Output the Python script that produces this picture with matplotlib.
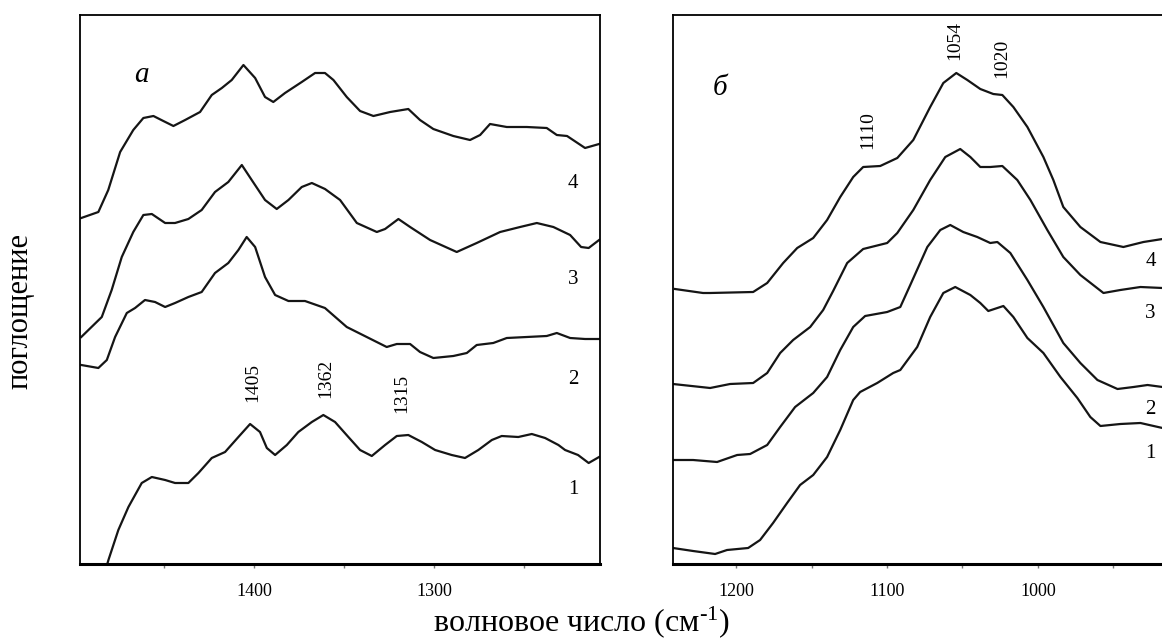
import matplotlib
matplotlib.use('Agg')
import matplotlib.pyplot as plt
from matplotlib.ticker import MultipleLocator, NullFormatter

plt.rcParams['font.family'] = ['Liberation Serif', 'DejaVu Serif']
plt.rcParams['mathtext.fontset'] = 'custom'
plt.rcParams['mathtext.rm'] = 'Liberation Serif'
plt.rcParams['mathtext.it'] = 'Liberation Serif:italic'

# Panel a: 1500-1200 cm-1 region (absorbance, arbitrary offset units)
wn_a4 = [1496, 1486.5, 1481, 1474.4, 1467.1, 1461.5, 1455.9, 1450.4, 1444.8, 1438.3, 1430, 1423.5,
         1417.9, 1412.4, 1405.9, 1399.4, 1393.9, 1389.3, 1382.8, 1373.5, 1366.1, 1360.6, 1355.9,
         1348.5, 1341.1, 1333.7, 1324.4, 1314.3, 1307.8, 1300.4, 1289.3, 1280, 1274.4, 1268.9,
         1259.6, 1248.5, 1237.4, 1231.8, 1226.1, 1216.1, 1208.3]
abs_a4 = [3.46, 3.52, 3.74, 4.12, 4.34, 4.46, 4.48, 4.43, 4.38, 4.44, 4.52, 4.69,
          4.76, 4.84, 4.99, 4.86, 4.67, 4.62, 4.71, 4.82, 4.91, 4.91, 4.84,
          4.67, 4.53, 4.48, 4.52, 4.55, 4.44, 4.35, 4.28, 4.24, 4.29, 4.40,
          4.37, 4.37, 4.36, 4.29, 4.28, 4.16, 4.20]

wn_a3 = [1496, 1484.6, 1479.1, 1473.5, 1467.1, 1461.5, 1456.8, 1449.4, 1443.9, 1436.5, 1429.1,
         1421.7, 1414.3, 1406.8, 1401.3, 1393.9, 1387.4, 1380.9, 1373.5, 1367.9, 1360.6, 1352.2,
         1342.9, 1331.8, 1327.2, 1319.8, 1313.3, 1302.2, 1287.4, 1276.3, 1263.3, 1252.2, 1242.9,
         1233.7, 1224.4, 1218.3, 1214.1, 1208.3]
abs_a3 = [2.27, 2.47, 2.74, 3.07, 3.32, 3.49, 3.50, 3.41, 3.41, 3.45, 3.54,
          3.72, 3.82, 3.99, 3.84, 3.64, 3.55, 3.64, 3.77, 3.81, 3.75, 3.64,
          3.41, 3.32, 3.35, 3.45, 3.37, 3.24, 3.12, 3.21, 3.32, 3.37, 3.41,
          3.37, 3.29, 3.17, 3.16, 3.24]

wn_a2 = [1496, 1486.5, 1481.8, 1477.2, 1470.7, 1466.1, 1460.6, 1455, 1449.4, 1443.9, 1436.5,
         1429.1, 1421.7, 1414.3, 1408.7, 1404.1, 1399.4, 1393.9, 1388.3, 1380.9, 1371.7, 1360.6,
         1348.5, 1337.4, 1326.3, 1320.7, 1313.3, 1307.8, 1300.4, 1289.3, 1281.8, 1276.3, 1267.1,
         1259.6, 1248.5, 1237.4, 1231.8, 1224.4, 1216.1, 1208.3]
abs_a2 = [1.99, 1.96, 2.04, 2.27, 2.51, 2.56, 2.64, 2.62, 2.57, 2.61, 2.67,
          2.72, 2.91, 3.01, 3.14, 3.27, 3.17, 2.87, 2.69, 2.63, 2.63, 2.56,
          2.37, 2.27, 2.17, 2.20, 2.20, 2.12, 2.06, 2.08, 2.11, 2.19, 2.21,
          2.26, 2.27, 2.28, 2.31, 2.26, 2.25, 2.25]

wn_a1 = [1482.2, 1480.9, 1475.4, 1469.8, 1462.4, 1456.8, 1449.4, 1443.9, 1436.5, 1430.9, 1423.5,
         1416.1, 1408.7, 1402.2, 1396.7, 1392.9, 1388.3, 1381.8, 1375.4, 1367.9, 1361.5, 1355,
         1347.6, 1341.1, 1334.6, 1327.2, 1320.7, 1314.3, 1306.8, 1299.4, 1290.2, 1282.8, 1275.4,
         1267.9, 1262.4, 1253.2, 1245.7, 1238.3, 1230.9, 1227.2, 1220, 1214.1, 1208.3]
abs_a1 = [-0.04, 0.04, 0.34, 0.57, 0.81, 0.87, 0.84, 0.81, 0.81, 0.91, 1.06,
          1.12, 1.27, 1.40, 1.32, 1.16, 1.09, 1.19, 1.32, 1.42, 1.49, 1.42,
          1.27, 1.14, 1.08, 1.19, 1.28, 1.29, 1.22, 1.14, 1.09, 1.06, 1.14,
          1.24, 1.28, 1.27, 1.30, 1.26, 1.19, 1.14, 1.09, 1.01, 1.07]

# Panel б: 1250-900 cm-1 region
wn_b4 = [1240.5, 1221.9, 1217.2, 1188.7, 1179.4, 1168.8, 1159.5, 1148.9, 1139.7, 1131.0, 1122.4,
         1115.8, 1104.5, 1093.2, 1082.6, 1071.4, 1062.7, 1054.1, 1046.8, 1038.2, 1029.6, 1023.6,
         1016.3, 1007.0, 996.4, 989.8, 983.2, 971.9, 958.6, 943.4, 930.1, 917.5]
abs_b4 = [2.75, 2.71, 2.71, 2.72, 2.81, 3.01, 3.16, 3.26, 3.44, 3.67, 3.87,
          3.97, 3.98, 4.06, 4.24, 4.57, 4.81, 4.91, 4.84, 4.75, 4.70, 4.69,
          4.57, 4.37, 4.07, 3.84, 3.57, 3.37, 3.22, 3.17, 3.22, 3.25]

wn_b3 = [1241.8, 1217.2, 1204.0, 1188.7, 1179.4, 1170.8, 1162.2, 1150.9, 1142.3, 1135.7, 1126.4,
         1115.8, 1099.9, 1093.2, 1082.6, 1071.4, 1061.4, 1051.5, 1044.8, 1038.2, 1031.6, 1023.6,
         1013.7, 1005.0, 993.8, 983.2, 971.9, 956.6, 945.4, 932.1, 917.5]
abs_b3 = [1.80, 1.76, 1.80, 1.81, 1.91, 2.11, 2.24, 2.37, 2.54, 2.73, 3.01,
          3.15, 3.21, 3.31, 3.54, 3.84, 4.07, 4.15, 4.07, 3.97, 3.97, 3.98,
          3.84, 3.64, 3.34, 3.07, 2.89, 2.71, 2.74, 2.77, 2.76]

wn_b2 = [1241.8, 1228.5, 1212.6, 1199.3, 1190.7, 1179.4, 1170.8, 1160.9, 1148.9, 1139.7, 1131.0,
         1122.4, 1114.5, 1099.9, 1091.2, 1084.6, 1073.3, 1064.7, 1058.1, 1049.5, 1040.2, 1031.6,
         1026.9, 1018.3, 1007.0, 996.4, 983.2, 971.9, 960.6, 947.3, 936.7, 927.4, 917.5]
abs_b2 = [1.04, 1.04, 1.02, 1.09, 1.10, 1.19, 1.37, 1.57, 1.71, 1.87, 2.14,
          2.37, 2.48, 2.52, 2.57, 2.79, 3.17, 3.34, 3.39, 3.32, 3.27, 3.21,
          3.22, 3.11, 2.84, 2.57, 2.21, 2.01, 1.84, 1.75, 1.77, 1.79, 1.77]

wn_b1 = [1241.8, 1228.5, 1213.9, 1206.0, 1192.0, 1184.1, 1175.5, 1166.2, 1157.6, 1148.9, 1139.7,
         1131.0, 1122.4, 1117.8, 1106.5, 1095.9, 1091.2, 1080.0, 1071.4, 1062.7, 1054.8, 1044.8,
         1038.2, 1032.9, 1022.9, 1016.3, 1007.0, 996.4, 985.1, 973.9, 965.3, 958.6, 945.4,
         932.1, 917.5]
abs_b1 = [0.16, 0.13, 0.10, 0.14, 0.16, 0.24, 0.41, 0.61, 0.79, 0.89, 1.07,
          1.34, 1.64, 1.72, 1.81, 1.91, 1.94, 2.17, 2.47, 2.71, 2.77, 2.69,
          2.61, 2.53, 2.58, 2.47, 2.26, 2.11, 1.87, 1.66, 1.47, 1.38, 1.40,
          1.41, 1.36]

# Peak labels and curve numbers
peaks_a = ['1405', '1362', '1315']
peaks_a_pos = [(1401, 1.82), (1360, 1.86), (1318, 1.71)]
peaks_b = ['1110', '1054', '1020']
peaks_b_pos = [(1113, 4.34), (1055, 5.23), (1024, 5.06)]
curve_names = ['1', '2', '3', '4']
names_a_y = [0.74, 1.85, 2.84, 3.81]
names_b_y = [1.11, 1.55, 2.51, 3.02]

W, H = 1162, 644
fig = plt.figure(figsize=(W / 100, H / 100), dpi=100)
ax_a = fig.add_axes([80 / W, 1 - 564 / H, 520 / W, 549 / H])
ax_b = fig.add_axes([673 / W, 1 - 564 / H, 494 / W, 549 / H])

line_kw = dict(color='#151515', lw=1.6, solid_joinstyle='round')
for wn, ab in [(wn_a1, abs_a1), (wn_a2, abs_a2), (wn_a3, abs_a3), (wn_a4, abs_a4)]:
    ax_a.plot(wn, ab, **line_kw)
for wn, ab in [(wn_b1, abs_b1), (wn_b2, abs_b2), (wn_b3, abs_b3), (wn_b4, abs_b4)]:
    ax_b.plot(wn, ab, **line_kw)

ax_a.set_xlim(1496.7, 1207.8)
ax_b.set_xlim(1241.8, 914.5)
for ax in (ax_a, ax_b):
    ax.set_ylim(0, 5.49)
    ax.set_yticks([])
    ax.xaxis.set_major_locator(MultipleLocator(100))
    ax.xaxis.set_minor_locator(MultipleLocator(50))
    ax.xaxis.set_minor_formatter(NullFormatter())
    ax.tick_params(axis='x', which='both', direction='out', length=3, width=1,
                   color='#777777', pad=11, labelsize=13)
    for side in ['left', 'right', 'top']:
        ax.spines[side].set_linewidth(1.3)
    ax.spines['bottom'].set_linewidth(2.2)

for txt, (x, y) in zip(peaks_a, peaks_a_pos):
    ax_a.text(x, y, txt, rotation=90, ha='center', va='center', fontsize=14)
for txt, (x, y) in zip(peaks_b, peaks_b_pos):
    ax_b.text(x, y, txt, rotation=90, ha='center', va='center', fontsize=14)

for name, y in zip(curve_names, names_a_y):
    ax_a.text(1222.8, y, name, ha='center', va='center', fontsize=15)
for name, y in zip(curve_names, names_b_y):
    ax_b.text(925.5, y, name, ha='center', va='center', fontsize=15)

ax_a.text(0.119, 0.891, 'a', transform=ax_a.transAxes, ha='center', va='center',
          fontsize=21, style='italic')
ax_b.text(0.0955, 0.867, 'б', transform=ax_b.transAxes, ha='center', va='center',
          fontsize=21, style='italic')

fig.text(20 / W, 1 - 311 / H, 'поглощение', rotation=90, ha='center', va='center', fontsize=22)
fig.text(581 / W, 1 - 622 / H, r'волновое число (см$^{\text{-1}}$)', ha='center', va='center',
         fontsize=23)

fig.savefig('out.png', dpi=100)
